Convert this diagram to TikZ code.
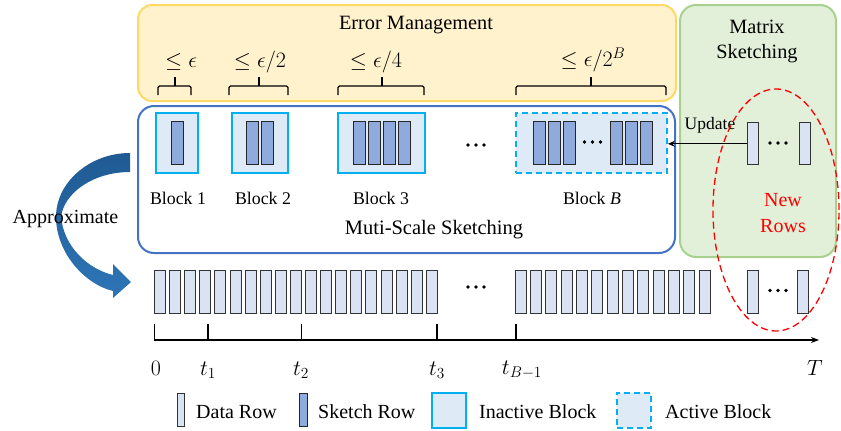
\RequirePackage{fix-cm}
\documentclass[tikz,border=0pt]{standalone}
\usepackage{fontspec}
\setmainfont{Liberation Serif}
\usetikzlibrary{arrows.meta,shapes.geometric}
\definecolor{yfill}{HTML}{FFF2CC}
\definecolor{ydraw}{HTML}{FFD966}
\definecolor{bdraw}{HTML}{4472C4}
\definecolor{gfill}{HTML}{E2F0D9}
\definecolor{gdraw}{HTML}{A9D18E}
\definecolor{blkfill}{HTML}{DEEBF7}
\definecolor{blkdraw}{HTML}{00B0F0}
\definecolor{skfill}{HTML}{8FAADC}
\definecolor{dfill}{HTML}{DAE3F3}
\definecolor{arrtop}{HTML}{1F5A93}
\definecolor{arrbot}{HTML}{2E75B6}
\tikzset{
  panel/.style={rounded corners=14pt, line width=2pt, inner sep=0},
  blockbox/.style={draw=blkdraw, fill=blkfill, line width=1.8pt, minimum height=59.7pt, inner sep=0},
  skbar/.style={draw=black!85, fill=skfill, line width=1pt, minimum width=12pt, minimum height=43pt, inner sep=0},
  databar/.style={draw=black!80, fill=dfill, line width=1pt, minimum width=11pt, minimum height=43pt, inner sep=0},
  lbl/.style={font=\fontsize{17.8}{20}\selectfont, inner sep=0},
  big/.style={font=\fontsize{20}{24}\selectfont, inner sep=0},
  mathlbl/.style={font=\fontsize{22}{26}\selectfont, inner sep=0},
  bracepath/.style={line width=1.1pt, rounded corners=1.5pt},
  dotmark/.style={circle, fill=black, inner sep=0, minimum size=3.6pt},
}
\newcommand{\mydots}[3]{%
  \node[dotmark] (#1a) at (#2-8,#3) {};
  \node[dotmark] (#1b) at (#2,#3) {};
  \node[dotmark] (#1c) at (#2+8,#3) {};}
\begin{document}
\begin{tikzpicture}[x=1pt,y=-1pt]
\useasboundingbox (0,0) rectangle (841,431);

% panels
\node[panel, draw=ydraw, fill=yfill, minimum width=538pt, minimum height=96pt] (errp) at (407,53) {};
\node[panel, draw=gdraw, fill=gfill, minimum width=156pt, minimum height=252pt, rounded corners=16pt] (matp) at (758,131) {};
\node[panel, draw=bdraw, fill=white, minimum width=537pt, minimum height=147pt, rounded corners=16pt] (msp) at (406.5,179.5) {};

% titles
\node[big, font=\fontsize{20.3}{24}\selectfont] (errt) at (416,25) {Error Management};
\node[big, font=\fontsize{20.3}{24}\selectfont, align=center] (matt) at (757,41) {Matrix\\[1pt]Sketching};
\node[big, font=\fontsize{20.5}{24}\selectfont] (mst) at (434,230) {Muti-Scale Sketching};

% error bounds
\node[mathlbl] (e1) at (181,62) {$\le\epsilon$};
\node[mathlbl] (e2) at (260,62) {$\le\epsilon/2$};
\node[mathlbl] (e3) at (376,62) {$\le\epsilon/4$};
\node[mathlbl] (e4) at (593,60) {$\le\epsilon/2^B$};
\draw[bracepath] (158,95) -- (158,86) -- (191,86) -- (191,95);
\draw[bracepath] (175,86) -- (175,77);
\draw[bracepath] (229,95) -- (229,86) -- (288,86) -- (288,95);
\draw[bracepath] (259,86) -- (259,77);
\draw[bracepath] (338,95) -- (338,86) -- (424,86) -- (424,95);
\draw[bracepath] (382,86) -- (382,77);
\draw[bracepath] (516,95) -- (516,86) -- (666,86) -- (666,95);
\draw[bracepath] (591,86) -- (591,77);

% blocks
\node[blockbox, minimum width=42pt] (blk1) at (177,142.85) {};
\node[blockbox, minimum width=56pt] (blk2) at (260,142.85) {};
\node[blockbox, minimum width=87pt] (blk3) at (381.5,142.85) {};
\node[blockbox, minimum width=151pt, dashed, dash pattern=on 6pt off 4pt] (blkB) at (591.5,142.85) {};

\node[skbar] (s11) at (177,142.5) {};
\node[skbar] (s21) at (252.5,142.5) {};
\node[skbar] (s22) at (267.5,142.5) {};
\foreach \i/\x in {1/359,2/374,3/389,4/404} {\node[skbar] (s3\i) at (\x,142.5) {};}
\foreach \i/\x in {1/539,2/554,3/569,4/616,5/631,6/646} {\node[skbar] (sB\i) at (\x,142.5) {};}
\mydots{bd}{592.5}{142}
\mydots{md}{476}{145}

\node[lbl] (bl1) at (178,198) {Block 1};
\node[lbl] (bl2) at (263,198) {Block 2};
\node[lbl] (bl3) at (381,198) {Block 3};
\node[lbl] (blB) at (592,198) {Block \textit{B}};

% matrix sketching rows
\node[databar, minimum height=42.3pt] (g1) at (752.5,143.8) {};
\node[databar, minimum height=42.3pt] (g2) at (804.5,143.8) {};
\mydots{gd}{778}{143}
\node[lbl, font=\fontsize{17.5}{20}\selectfont] (upd) at (710,125) {Update};
\draw[line width=1pt, -{Stealth[length=7pt,width=6pt]}] (g1.west) -- (g1.west -| blkB.east);

% data rows
\foreach \i in {0,...,18} {\node[databar] (d1-\i) at (160.05+\i*15.1,291.5) {};}
\foreach \i in {0,...,12} {\node[databar] (d2-\i) at (520.5+\i*15.35,291.5) {};}
\node[databar] (n1) at (752.5,291.5) {};
\node[databar] (n2) at (803,291.5) {};
\mydots{dd}{476}{287}
\mydots{nd}{778}{290.5}

% new rows ellipse
\node[ellipse, draw=red, line width=1.3pt, dashed, dash pattern=on 7pt off 4pt, minimum width=126pt, minimum height=242pt, inner sep=0] (nell) at (776,210) {};
\node[big, text=red, align=center] (nrt) at (783,213) {New\\[2pt]Rows};

% axis
\coordinate (ax0) at (154.3,340);
\coordinate (axT) at (819,340);
\draw[line width=1.2pt, -{Stealth[length=8pt,width=6pt]}] (ax0) -- (axT);
\foreach \n/\x in {a/154.3,b/208,c/301.5,d/437,e/516} {
  \coordinate (tk\n) at (\x,324);
  \draw[line width=1.2pt] (tk\n) -- (tk\n |- ax0);
}
\node[mathlbl] (l0) at (156,368) {$0$};
\node[mathlbl] (l1) at (208,370) {$t_1$};
\node[mathlbl] (l2) at (301,370) {$t_2$};
\node[mathlbl] (l3) at (437,370) {$t_3$};
\node[mathlbl] (l4) at (522,370) {$t_{B-1}$};
\node[mathlbl] (lT) at (815,368) {$T$};

% approximate arrow
\shade[top color=arrtop, bottom color=arrbot]
  (130,153) .. controls (90,153) and (56,182) .. (56,217)
  .. controls (56,252) and (84,284) .. (113,291)
  -- (113,298) -- (131,282) -- (113,264) -- (113,275)
  .. controls (88,269) and (64,247) .. (61,217)
  .. controls (64,193) and (93,172) .. (130,172) -- cycle;
\node[big] (apx) at (65.5,219) {Approximate};

% legend
\node[databar, minimum width=7pt, minimum height=33pt] (lg1) at (180.5,409.5) {};
\node[big, anchor=west] (lt1) at (196,412) {Data Row};
\node[skbar, minimum width=8.7pt, minimum height=33pt] (lg2) at (303.5,409.5) {};
\node[big, anchor=west] (lt2) at (318,412) {Sketch Row};
\node[blockbox, minimum width=34.3pt, minimum height=35pt] (lg3) at (449,410.2) {};
\node[big, anchor=west] (lt3) at (479,412) {Inactive Block};
\node[blockbox, minimum width=34.3pt, minimum height=35pt, dashed, dash pattern=on 6pt off 4pt] (lg4) at (634,410.2) {};
\node[big, anchor=west] (lt4) at (665,412) {Active Block};
\end{tikzpicture}
\end{document}
